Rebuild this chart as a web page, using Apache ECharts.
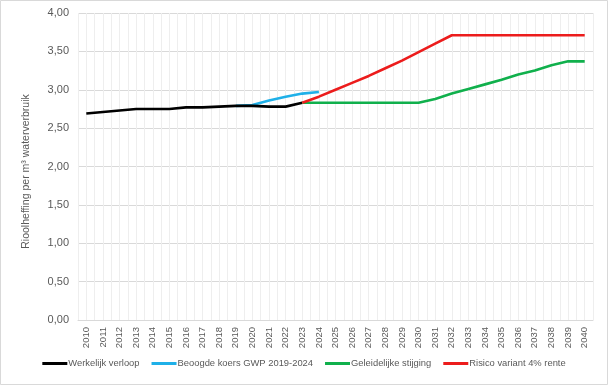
<!DOCTYPE html>
<html>
<head>
<meta charset="utf-8">
<script src="https://cdn.jsdelivr.net/npm/echarts@6/dist/echarts.min.js"></script>
<style>html,body{margin:0;padding:0;background:#fff;}#c{width:608px;height:385px;}</style>
</head>
<body>
<div id="c"></div>
<script>
var years = [];
for (var y = 2010; y <= 2040; y++) years.push(String(y));
var yTicks = [0, 0.5, 1, 1.5, 2, 2.5, 3, 3.5, 4];

var werkelijk = [2.69, 2.71, 2.73, 2.75, 2.75, 2.75, 2.77, 2.77, 2.78, 2.79, 2.79, 2.78, 2.78, 2.83,
  null, null, null, null, null, null, null, null, null, null, null, null, null, null, null, null, null];
var beoogd = [null, null, null, null, null, null, null, null, null, 2.79, 2.80, 2.86, 2.91, 2.95, 2.97,
  null, null, null, null, null, null, null, null, null, null, null, null, null, null, null, null];
var geleidelijk = [null, null, null, null, null, null, null, null, null, null, null, null, null,
  2.83, 2.83, 2.83, 2.83, 2.83, 2.83, 2.83, 2.83, 2.88, 2.95, 3.01, 3.07, 3.13, 3.20, 3.25, 3.32, 3.37, 3.37];
var risico = [null, null, null, null, null, null, null, null, null, null, null, null, null,
  2.83, 2.91, 3.00, 3.09, 3.18, 3.28, 3.38, 3.49, 3.60, 3.71, 3.71, 3.71, 3.71, 3.71, 3.71, 3.71, 3.71, 3.71];

var names = ['Werkelijk verloop', 'Beoogde koers GWP 2019-2024', 'Geleidelijke stijging', 'Risico variant 4% rente'];
var colors = ['#000000', '#1fb0e8', '#10b04c', '#ec1c1c'];
var seriesData = [werkelijk, beoogd, geleidelijk, risico];

var chart = echarts.init(document.getElementById('c'), null, {renderer: 'canvas'});
var font = 'Liberation Sans, Arial, sans-serif';
var option = {
  backgroundColor: '#fff',
  animation: false,
  textStyle: {fontFamily: font},
  graphic: [{
    type: 'rect', shape: {x: 0.5, y: 0.5, width: 607, height: 384},
    style: {fill: 'none', stroke: '#d9d9d9', lineWidth: 1}, z: 100
  }],
  grid: {left: 78, right: 15, top: 13, bottom: 65, containLabel: false},
  legend: {
    bottom: 12, left: 'center', width: 580,
    icon: 'rect', itemWidth: 25, itemHeight: 3, itemGap: 12,
    textStyle: {fontSize: 9.4, color: '#595959', fontFamily: font, padding: [0, 0, 0, -4]},
    data: names
  },
  xAxis: [{
    type: 'category', data: years, boundaryGap: true,
    axisLine: {show: true, lineStyle: {color: '#d9d9d9'}},
    axisTick: {show: false},
    splitLine: {show: false},
    axisLabel: {rotate: 90, fontSize: 9.5, color: '#595959', margin: 7, fontFamily: font}
  }, {
    type: 'value', min: 0, max: 62, interval: 1, position: 'top',
    axisLine: {show: false}, axisTick: {show: false}, axisLabel: {show: false},
    splitLine: {show: true, lineStyle: {color: '#eeeeee', width: 1}}
  }],
  yAxis: {
    type: 'value', min: yTicks[0], max: yTicks[yTicks.length - 1], interval: 0.5,
    name: 'Rioolheffing per m³ waterverbruik', nameLocation: 'middle', nameGap: 46,
    nameTextStyle: {fontSize: 10.5, color: '#595959', fontFamily: font, padding: [0, 0, 0, -10]},
    axisLine: {show: false}, axisTick: {show: false},
    axisLabel: {fontSize: 11, color: '#595959', margin: 9, fontFamily: font,
      formatter: function (v) { return v.toFixed(2).replace('.', ','); }},
    splitLine: {show: true, lineStyle: {color: '#d9d9d9'}}
  },
  series: seriesData.map(function (d, i) {
    return {
      name: names[i], type: 'line', data: d, xAxisIndex: 0,
      showSymbol: false, symbol: 'none', connectNulls: false,
      lineStyle: {color: colors[i], width: 2.6}, itemStyle: {color: colors[i]},
      z: i === 0 ? 5 : 3 + i
    };
  })
};
chart.setOption(option);
</script>
</body>
</html>
